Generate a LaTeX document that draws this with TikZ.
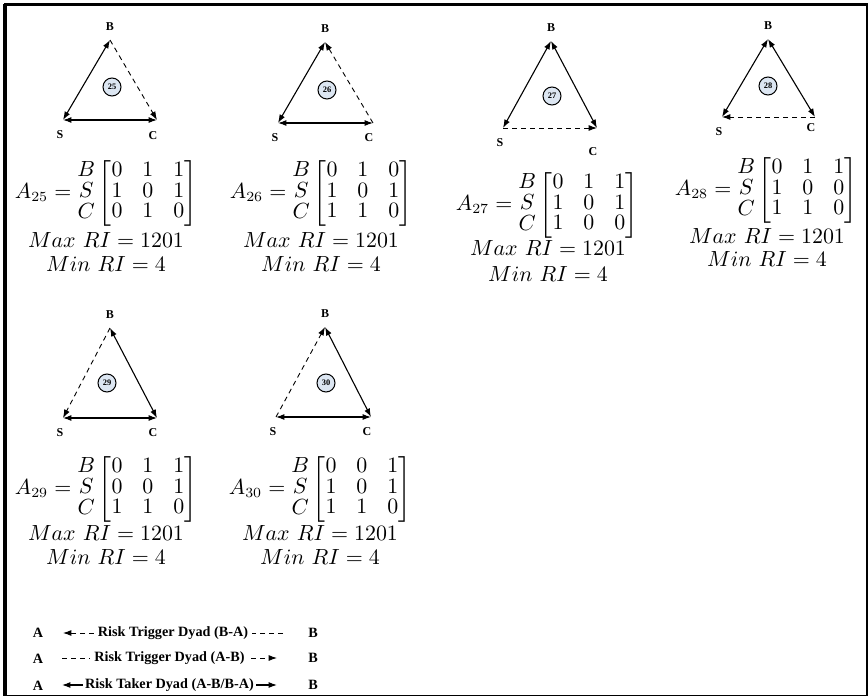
\documentclass[tikz,border=0pt]{standalone}
\usepackage{amsmath}
\usepackage{fontspec}
\newfontfamily\labfont{Liberation Serif}
\usetikzlibrary{arrows.meta,positioning}
\definecolor{numblue}{HTML}{DCE6F2}
\renewcommand{\arraystretch}{0.79}
\tikzset{
  tip/.tip={Latex[length=4.2pt,width=3pt]},
  taker/.style={tip-tip, line width=0.55pt},
  trig/.style={-tip, dash pattern=on 2.5pt off 2pt, line width=0.45pt},
  vlab/.style={font=\labfont\fontsize{6}{7}\selectfont\bfseries, inner sep=0pt},
  num/.style={circle, draw, line width=0.5pt, fill=numblue, minimum size=9pt,
    inner sep=0pt, font=\labfont\fontsize{4.2}{5}\selectfont\bfseries},
  eq/.style={font=\fontsize{10.6}{12.7}\selectfont, inner sep=0pt},
  key/.style={font=\labfont\fontsize{7.1}{8}\selectfont\bfseries, inner sep=0pt}
}
\begin{document}
\begin{tikzpicture}[x=0.5pt,y=-0.5pt]
    \useasboundingbox (0,0) rectangle (868,696);
    % Frame
    \draw[line width=2pt] (5,696) -- (5,4);
    \draw[line width=1.5pt] (4,4.5) -- (868,4.5);
    \draw[line width=1pt] (4,695.5) -- (868,695.5);
    \draw[line width=1pt] (867,4) -- (867,696);

    % Triads
    \foreach \n/\bx/\by/\sx/\sy/\cx/\cy/\kx/\ky/\cd in {
        25/110/40/63/120/157/120/112/87/16,
        26/325/42/278/123/373/123/327/90/15,
        27/551/41/503/128/597/128/552/96/24,
        28/768/39/722/117/815/117/768/86/11,
        29/110/328/63/418/157/418/107/383/15,
        30/325/327/276/417/371/417/326/383/15} {
        \coordinate (b\n) at (\bx,\by);
        \coordinate (s\n) at (\sx,\sy);
        \coordinate (c\n) at (\cx,\cy);
        \node[vlab, above=4.5pt of b\n] (lb\n) {B};
        \node[vlab, below=5pt of s\n, xshift=-1.5pt] (ls\n) {S};
        \node[vlab] (lc\n) at (\cx-4,\cy+\cd) {C};
        \node[num] (k\n) at (\kx,\ky) {\n};
    }

    % Dyads
    \foreach \n/\pa/\pb/\qa/\qb/\ra/\rb in {
        25/b/s/s/c/b/c, 26/b/s/s/c/c/b, 27/b/s/b/c/s/c,
        28/b/s/b/c/c/s, 29/b/c/s/c/b/s, 30/b/c/s/c/s/b} {
        \draw[taker] (\pa\n) -- (\pb\n);
        \draw[taker] (\qa\n) -- (\qb\n);
        \draw[trig] (\ra\n) -- (\rb\n);
    }

    % Adjacency matrices
    \node[eq] (m25) at (106,193) {$A_{25} = \begin{matrix}B\\S\\C\end{matrix}\begin{bmatrix}0&1&1\\1&0&1\\0&1&0\end{bmatrix}$};
    \node[eq] (x25) at (106,240) {$Max\ RI = 1201$};
    \node[eq] (n25) at (106,264) {$Min\ RI = 4$};

    \node[eq] (m26) at (321,193) {$A_{26} = \begin{matrix}B\\S\\C\end{matrix}\begin{bmatrix}0&1&0\\1&0&1\\1&1&0\end{bmatrix}$};
    \node[eq] (x26) at (321,240) {$Max\ RI = 1201$};
    \node[eq] (n26) at (321,264) {$Min\ RI = 4$};

    \node[eq] (m27) at (547,205) {$A_{27} = \begin{matrix}B\\S\\C\end{matrix}\begin{bmatrix}0&1&1\\1&0&1\\1&0&0\end{bmatrix}$};
    \node[eq] (x27) at (548,248) {$Max\ RI = 1201$};
    \node[eq] (n27) at (548,274) {$Min\ RI = 4$};

    \node[eq] (m28) at (766,190) {$A_{28} = \begin{matrix}B\\S\\C\end{matrix}\begin{bmatrix}0&1&1\\1&0&0\\1&1&0\end{bmatrix}$};
    \node[eq] (x28) at (767,236) {$Max\ RI = 1201$};
    \node[eq] (n28) at (767,259) {$Min\ RI = 4$};

    \node[eq] (m29) at (106,489) {$A_{29} = \begin{matrix}B\\S\\C\end{matrix}\begin{bmatrix}0&1&1\\0&0&1\\1&1&0\end{bmatrix}$};
    \node[eq] (x29) at (106,533) {$Max\ RI = 1201$};
    \node[eq] (n29) at (106,557) {$Min\ RI = 4$};

    \node[eq] (m30) at (320,489) {$A_{30} = \begin{matrix}B\\S\\C\end{matrix}\begin{bmatrix}0&0&1\\1&0&1\\1&1&0\end{bmatrix}$};
    \node[eq] (x30) at (320,533) {$Max\ RI = 1201$};
    \node[eq] (n30) at (320,557) {$Min\ RI = 4$};

    % Legend
    \node[key] (ka1) at (38,633) {A};
    \node[key] (kb1) at (313,633) {B};
    \coordinate (t1a) at (63,633);
    \coordinate (t1b) at (283,633);
    \draw[trig] (t1b) -- node[key, fill=white, inner xsep=2pt] (d1) {Risk Trigger Dyad (B-A)} (t1a);

    \node[key] (ka2) at (38,659) {A};
    \node[key] (kb2) at (313,658) {B};
    \coordinate (t2a) at (62,658);
    \coordinate (t2b) at (277,658);
    \draw[trig] (t2a) -- node[key, fill=white, inner xsep=2pt] (d2) {Risk Trigger Dyad (A-B)} (t2b);

    \node[key] (ka3) at (38,686) {A};
    \node[key] (kb3) at (313,685) {B};
    \coordinate (t3a) at (62,685);
    \coordinate (t3b) at (277,685);
    \draw[taker] (t3a) -- node[key, fill=white, inner xsep=1pt] (d3) {Risk Taker Dyad (A-B/B-A)} (t3b);
\end{tikzpicture}
\end{document}
